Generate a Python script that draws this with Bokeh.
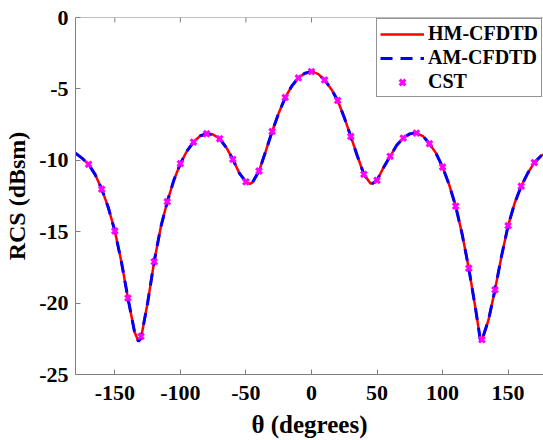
from bokeh.plotting import figure
from bokeh.models import Range1d, FixedTicker, Legend, LegendItem, Span
from bokeh.embed import file_html
from bokeh.resources import INLINE

# ---- data ----
theta_curve = [-180, -175, -170, -165, -160, -155, -150, -145, -140, -135, -132, -130,
               -125, -120, -115, -110, -105, -100, -95, -90, -85, -80, -75, -70, -65,
               -60, -55, -50, -47, -45, -40, -35, -30, -25, -20, -15, -10, -5, 0,
               5, 10, 15, 20, 25, 30, 35, 40, 45, 47, 50, 55, 60, 65, 70, 75, 80, 85,
               90, 95, 100, 105, 110, 115, 120, 125, 129, 130, 135, 140, 145, 150,
               155, 160, 165, 170, 175, 180]
rcs_hm = [-9.5, -9.85, -10.28, -11.0, -12.02, -13.3, -14.95, -17.1, -19.65, -22.0, -22.68, -22.45,
          -20.0, -17.1, -14.7, -12.9, -11.4, -10.23, -9.35, -8.72, -8.3, -8.14, -8.2, -8.49, -9.1,
          -9.93, -10.9, -11.51, -11.65, -11.55, -10.75, -9.4, -7.98, -6.7, -5.6, -4.8, -4.23, -3.9, -3.79,
          -3.95, -4.37, -5.0, -5.81, -7.0, -8.33, -9.7, -10.98, -11.62, -11.6, -11.4, -10.5, -9.72, -8.95,
          -8.44, -8.15, -8.09, -8.3, -8.84, -9.5, -10.47, -11.7, -13.21, -15.2, -17.56, -20.3, -22.68,
          -22.6, -21.2, -19.07, -16.7, -14.58, -13.0, -11.81, -10.9, -10.16, -9.7, -9.4]
rcs_am = list(rcs_hm)

theta_cst = [-170, -160, -150, -140, -130, -120, -110, -100, -90, -80, -70, -60, -50, -40,
             -30, -20, -10, 0, 10, 20, 30, 40, 50, 60, 70, 80, 90, 100, 110, 120, 130,
             140, 150, 160, 170]
rcs_cst = [-10.28, -12.02, -14.95, -19.65, -22.33, -17.1, -12.9, -10.23, -8.72, -8.14,
           -8.49, -9.93, -11.51, -10.75, -7.98, -5.6, -4.23, -3.79, -4.37, -5.81, -8.33,
           -10.98, -11.4, -9.72, -8.44, -8.09, -8.84, -10.47, -13.21, -17.56, -22.56,
           -19.07, -14.58, -11.81, -10.16]

x_ticks = [-150, -100, -50, 0, 50, 100, 150]
x_tick_labels = ["-150", "-100", "-50", "0", "50", "100", "150"]
y_ticks = [0, -5, -10, -15, -20, -25]
y_tick_labels = ["0", "-5", "-10", "-15", "-20", "-25"]
x_title = "θ (degrees)"
y_title = "RCS (dBsm)"

FONT = '"Liberation Serif", serif'
AXC = "#808080"
Y_MIN, Y_MAX = -25, 0

p = figure(width=543, height=440, output_backend="svg", toolbar_location=None,
           x_range=Range1d(-180, 177), y_range=Range1d(Y_MIN, Y_MAX),
           min_border_left=75, min_border_top=17, min_border_bottom=65, min_border_right=0)
p.outline_line_color = None
p.grid.grid_line_color = None
p.background_fill_color = "white"
p.border_fill_color = "white"

r_hm = p.line(theta_curve, rcs_hm, line_color="#FF0000", line_width=2.5)
r_am = p.line(theta_curve, rcs_am, line_color="#0000FF", line_width=3, line_dash="12 8")
r_cst = p.scatter(theta_cst, rcs_cst, marker="x", size=8, line_color="#FF00FF", line_width=3)

for ax in (p.xaxis[0], p.yaxis[0]):
    ax.axis_line_color = AXC
    ax.major_tick_line_color = AXC
    ax.major_tick_in = 5
    ax.major_tick_out = 0
    ax.minor_tick_line_color = None
    ax.major_label_text_font = FONT
    ax.major_label_text_font_style = "bold"
    ax.major_label_text_font_size = "22px"
    ax.major_label_text_color = "black"
    ax.axis_label_text_font = FONT
    ax.axis_label_text_font_style = "bold"
    ax.axis_label_text_font_size = "24px"
    ax.axis_label_text_color = "black"

p.xaxis[0].ticker = FixedTicker(ticks=x_ticks)
p.yaxis[0].ticker = FixedTicker(ticks=y_ticks)
p.xaxis[0].major_label_overrides = dict(zip(x_ticks, x_tick_labels))
p.yaxis[0].major_label_overrides = dict(zip(y_ticks, y_tick_labels))
p.xaxis[0].axis_label = x_title
p.yaxis[0].axis_label = y_title
p.xaxis[0].axis_label_text_font_size = "25px"
p.xaxis[0].major_label_standoff = 11
p.yaxis[0].major_label_standoff = 7
p.xaxis[0].axis_label_standoff = 8
p.yaxis[0].axis_label_standoff = 6

# top frame line with inward ticks
p.add_layout(Span(location=Y_MAX, dimension="width", line_color=AXC, line_width=1))
tick_len = 5 * (Y_MAX - Y_MIN) / 358.0
p.segment(x0=x_ticks, x1=x_ticks, y0=[Y_MAX] * len(x_ticks),
          y1=[Y_MAX - tick_len] * len(x_ticks), line_color=AXC, line_width=1)

legend = Legend(items=[LegendItem(label="HM-CFDTD", renderers=[r_hm]),
                       LegendItem(label="AM-CFDTD", renderers=[r_am]),
                       LegendItem(label="CST", renderers=[r_cst])],
                location="top_right", margin=1, padding=3, spacing=1,
                glyph_width=44, glyph_height=20, label_standoff=4,
                label_text_font=FONT, label_text_font_style="bold",
                label_text_font_size="20px", label_text_color="black",
                border_line_color="#262626", border_line_width=1,
                background_fill_alpha=1.0)
p.add_layout(legend)

open("out.html", "w").write(file_html(p, INLINE))
